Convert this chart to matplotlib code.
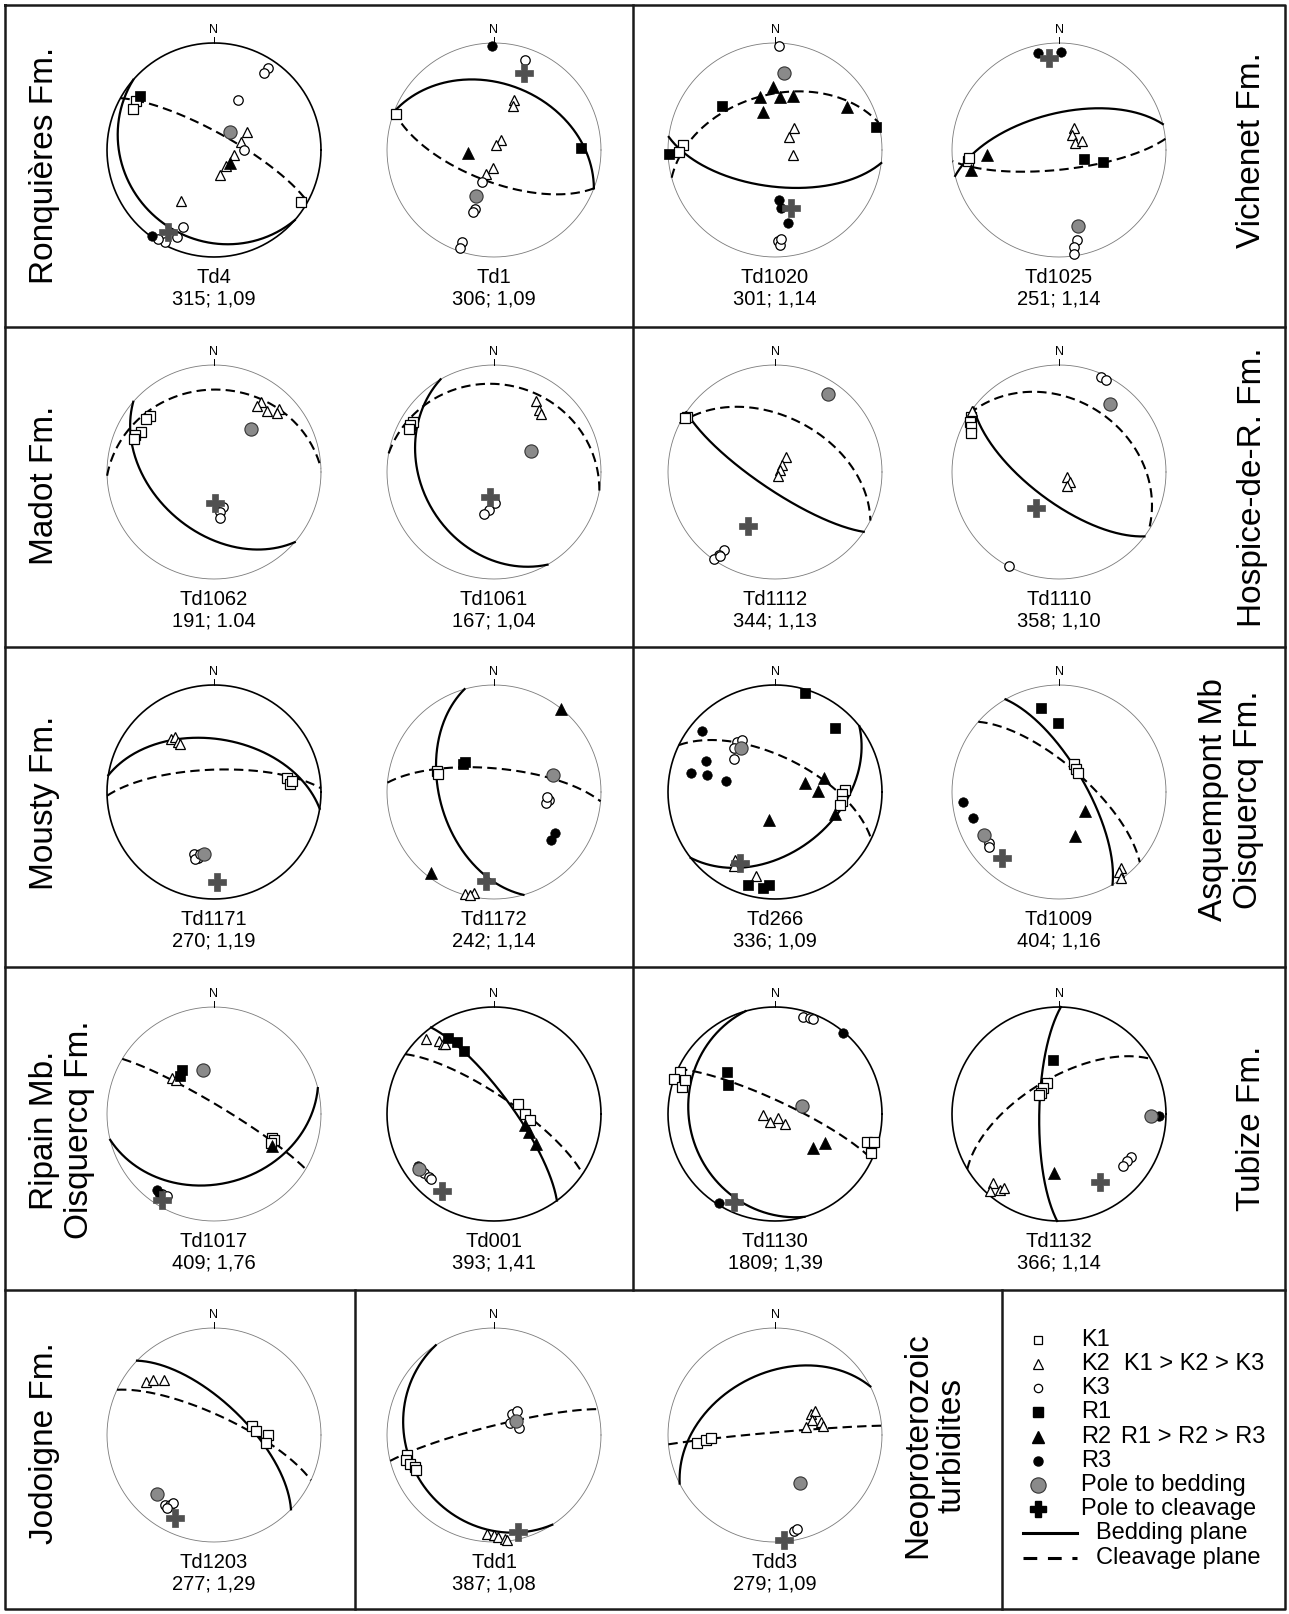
import numpy as np
import matplotlib
matplotlib.use("Agg")
import matplotlib.pyplot as plt

plt.rcParams['font.family'] = ['Liberation Sans', 'DejaVu Sans']

#################################################################
# DATA: AMS axes and poles, (trend, plunge) in degrees, lower hemisphere
#################################################################
TD4 = dict(name="Td4", info="315; 1,09",
           K1=[(302, 15), (297, 16), (121, 6)],
           K2=[(61, 61), (74, 69), (105, 74), (142, 75), (166, 70), (213, 43)],
           K3=[(33, 9), (33, 15), (26, 47), (90, 67), (202, 23), (203, 13), (208, 3), (212, 2)],
           R1=[(306, 16)], R2=[(129, 74)], R3=[(216, 1)],
           bed=(41, 72), clv=(209, 13))
TD1 = dict(name="Td1", info="306; 1,09",
           K1=[(290, 3)],
           K2=[(22, 48), (23, 53), (35, 81), (18, 86), (183, 76), (198, 71)],
           K3=[(19, 12), (200, 64), (198, 42), (199, 39), (199, 10), (199, 3)],
           R1=[(89, 20)], R2=[(263, 70)], R3=[(359, 3)],
           bed=(201, 52), clv=(21, 24))
TD1020 = dict(name="Td1020", info="301; 1,14",
              K1=[(273, 15), (269, 11)],
              K2=[(41, 68), (47, 75), (106, 76)],
              K3=[(2, 3), (178, 16), (177, 12), (176, 18)],
              R1=[(310, 36), (77, 3), (268, 1)],
              R2=[(358, 41), (344, 47), (5, 49), (19, 46), (342, 59), (59, 23)],
              R3=[(176, 51), (174, 45), (170, 31)],
              bed=(7, 28), clv=(165, 43))
TD1025 = dict(name="Td1025", info="251; 1,14",
              K1=[(263, 15), (265, 17)],
              K2=[(35, 70), (41, 75), (67, 77), (70, 71)],
              K3=[(169, 15), (171, 9), (172, 2)],
              R1=[(109, 70), (105, 55)], R2=[(266, 33), (257, 17)], R3=[(348, 8), (1, 9)],
              bed=(166, 28), clv=(354, 15))
TD1062 = dict(name="Td1062", info="191; 1.04",
              K1=[(311, 22), (308, 21), (299, 23), (295, 20), (292, 20)],
              K2=[(34, 22), (33, 27), (41, 26), (46, 17), (47, 20)],
              K3=[(165, 62), (171, 59), (173, 54)],
              bed=(41, 46), clv=(178, 66))
TD1061 = dict(name="Td1061", info="167; 1,04",
              K1=[(302, 12), (299, 11), (297, 12)],
              K2=[(31, 24), (36, 29), (39, 31)],
              K3=[(178, 66), (188, 61), (194, 57)],
              bed=(60, 57), clv=(190, 71))
TD1112 = dict(name="Td1112", info="344; 1,13",
              K1=[(302, 3), (301, 2)],
              K2=[(38, 76), (45, 82), (63, 86), (146, 86)],
              K3=[(213, 14), (214, 7), (215, 1), (213, 7)],
              bed=(34, 13), clv=(207, 43))
TD1110 = dict(name="Td1110", info="358; 1,10",
              K1=[(302, 3), (299, 5), (297, 9), (294, 11)],
              K2=[(305, 1), (120, 83), (132, 79), (150, 78)],
              K3=[(24, 3), (27, 4), (208, 1)],
              bed=(37, 22), clv=(213, 57))
TD1171 = dict(name="Td1171", info="270; 1,19",
              K1=[(79, 31), (84, 29), (82, 27)],
              K2=[(321, 36), (325, 37), (324, 42), (325, 44)],
              K3=[(198, 39), (194, 37), (196, 35), (193, 40)],
              bed=(189, 41), clv=(178, 17))
TD1172 = dict(name="Td1172", info="242; 1,14",
              K1=[(290, 43), (288, 44)],
              K2=[(196, 1), (191, 4), (193, 1)],
              K3=[(98, 47), (102, 49), (95, 49)],
              R1=[(312, 58), (316, 58)], R2=[(39, 0), (218, 5)], R3=[(124, 32), (130, 31)],
              bed=(74, 42), clv=(185, 18))
TD266 = dict(name="Td266", info="336; 1,09",
             K1=[(88, 35), (92, 37), (98, 37), (101, 38)],
             K2=[(210, 27), (209, 22), (193, 21)],
             K3=[(323, 41), (328, 42), (317, 43), (309, 49)],
             R1=[(17, 4), (43, 19), (196, 11), (187, 11), (184, 14)],
             R2=[(74, 66), (74, 51), (89, 57), (193, 68), (110, 40)],
             R3=[(310, 12), (294, 30), (283, 21), (284, 35), (283, 51)],
             bed=(322, 47), clv=(206, 27))
TD1009 = dict(name="Td1009", info="404; 1,16",
              K1=[(29, 66), (36, 68), (45, 69)],
              K2=[(141, 9), (143, 7), (144, 1)],
              K3=[(234, 20), (232, 18)],
              R1=[(348, 21), (359, 36)], R2=[(126, 65), (160, 54)], R3=[(264, 11), (253, 17)],
              bed=(240, 20), clv=(221, 20))
TD1017 = dict(name="Td1017", info="409; 1,76",
              K1=[(112, 41), (114, 39), (117, 40)],
              K2=[(310, 47), (312, 51)],
              K3=[(213, 12), (210, 13)],
              R1=[(324, 48), (318, 51)], R2=[(119, 38)], R3=[(217, 12), (215, 11)],
              bed=(346, 55), clv=(211, 7))
TD001 = dict(name="Td001", info="393; 1,41",
             K1=[(68, 70), (90, 66), (100, 62)],
             K2=[(318, 6), (323, 16), (324, 20), (325, 21)],
             K3=[(230, 16), (226, 17), (224, 17)],
             R1=[(329, 18), (333, 25), (335, 35)],
             R2=[(109, 65), (117, 60), (125, 50)],
             R3=[(236, 15)],
             bed=(234, 14), clv=(214, 14))
TD1130 = dict(name="Td1130", info="1809; 1,39",
              K1=[(294, 3), (289, 0), (286, 10), (291, 11), (107, 11), (106, 4), (112, 4)],
              K2=[(265, 81), (210, 83), (143, 86), (135, 79)],
              K3=[(16, 6), (20, 5), (22, 5)],
              R1=[(311, 40), (302, 47)], R2=[(132, 51), (120, 45)], R3=[(40, 1), (212, 2)],
              bed=(74, 69), clv=(205, 10))
TD1132 = dict(name="Td1132", info="366; 1,14",
              K1=[(339, 65), (328, 67), (320, 69), (313, 69)],
              K2=[(224, 12), (222, 4), (218, 11), (217, 15)],
              K3=[(121, 23), (125, 24), (129, 24)],
              R1=[(354, 48)], R2=[(185, 44)], R3=[(91, 7)],
              bed=(91, 15), clv=(149, 27))
TD1203 = dict(name="Td1203", info="277; 1,29",
              K1=[(77, 60), (85, 58), (90, 48), (99, 49)],
              K2=[(308, 21), (312, 24), (318, 31)],
              K3=[(215, 21), (212, 24), (211, 27), (213, 20)],
              bed=(224, 24), clv=(205, 15))
TDD1 = dict(name="Tdd1", info="387; 1,08",
            K1=[(257, 18), (254, 16), (251, 18), (248, 21), (246, 21)],
            K2=[(184, 8), (180, 7), (178, 5), (174, 3), (173, 1)],
            K3=[(40, 69), (44, 65), (54, 75), (75, 70)],
            bed=(57, 70), clv=(166, 7))
TDD3 = dict(name="Tdd3", info="279; 1,09",
            K1=[(264, 28), (266, 36), (267, 40)],
            K2=[(59, 58), (59, 54), (68, 59), (74, 53), (76, 66), (79, 52)],
            K3=[(169, 9), (167, 11)],
            bed=(153, 48), clv=(175, 2))

formations = ["Ronquières Fm.", "Vichenet Fm.", "Madot Fm.", "Hospice-de-R. Fm.",
              "Mousty Fm.", "Asquempont Mb\nOisquercq Fm.", "Ripain Mb.\nOisquercq Fm.",
              "Tubize Fm.", "Jodoigne Fm.", "Neoproterozoic\nturbidites"]

legend_labels = ["K1", "K2", "K3", "R1", "R2", "R3", "Pole to bedding",
                 "Pole to cleavage", "Bedding plane", "Cleavage plane"]

#################################################################
# LAYOUT / STYLE
#################################################################
W, H = 1289, 1614
R = 107
col_x = [214, 494, 775, 1059]
row_y = [150, 472, 792, 1114, 1435]

nets = [(TD4, 0, 0), (TD1, 1, 0), (TD1020, 2, 0), (TD1025, 3, 0),
        (TD1062, 0, 1), (TD1061, 1, 1), (TD1112, 2, 1), (TD1110, 3, 1),
        (TD1171, 0, 2), (TD1172, 1, 2), (TD266, 2, 2), (TD1009, 3, 2),
        (TD1017, 0, 3), (TD001, 1, 3), (TD1130, 2, 3), (TD1132, 3, 3),
        (TD1203, 0, 4), (TDD1, 1, 4), (TDD3, 2, 4)]
bold_nets = {"Td4", "Td1171", "Td266", "Td001", "Td1130", "Td1132"}

formation_pos = [(45, 165), (1252, 150), (45, 485), (1252, 487), (45, 803),
                 (1231, 800), (62, 1130), (1252, 1128), (45, 1443), (935, 1445)]

marker_style = {
    "K1": dict(marker="s", ms=6.8, mfc="white", mec="black", mew=0.9),
    "K2": dict(marker="^", ms=7.3, mfc="white", mec="black", mew=0.9),
    "K3": dict(marker="o", ms=6.8, mfc="white", mec="black", mew=0.9),
    "R1": dict(marker="s", ms=7.2, mfc="black", mec="black", mew=0.5),
    "R2": dict(marker="^", ms=8.3, mfc="black", mec="black", mew=0.5),
    "R3": dict(marker="o", ms=6.8, mfc="black", mec="black", mew=0.5),
    "bed": dict(marker="o", ms=9.5, mfc="#8a8a8a", mec="#333333", mew=0.8),
    "clv": dict(marker="P", ms=12.5, mfc="#505050", mec="#505050", mew=0.5),
}
label_font = ['Liberation Sans Narrow', 'Liberation Sans', 'DejaVu Sans']


def project(trend, plunge):
    """Lower-hemisphere equal-area projection."""
    t = np.radians(trend)
    p = np.radians(plunge)
    d = np.sin(p)
    e = np.cos(p) * np.sin(t)
    n = np.cos(p) * np.cos(t)
    return e / np.sqrt(1 + d), n / np.sqrt(1 + d)


def plane_arc(pole):
    """Great circle of the plane normal to a pole (trend, plunge)."""
    dd = np.radians(pole[0] + 180)
    dip = np.radians(90 - pole[1])
    s = dd - np.pi / 2
    t = np.linspace(0, np.pi, 181)
    sv = np.array([np.sin(s), np.cos(s), 0.0])
    dv = np.array([np.sin(dd) * np.cos(dip), np.cos(dd) * np.cos(dip), np.sin(dip)])
    v = np.outer(np.cos(t), sv) + np.outer(np.sin(t), dv)
    k = np.sqrt(1 + v[:, 2])
    return v[:, 0] / k, v[:, 1] / k


def draw_net(fig, site, cx, cy):
    ax = fig.add_axes([(cx - R) / W, 1 - (cy + R) / H, 2 * R / W, 2 * R / H])
    ax.set_xlim(-1, 1)
    ax.set_ylim(-1, 1)
    ax.axis("off")

    th = np.linspace(0, 2 * np.pi, 361)
    if site["name"] in bold_nets:
        ax.plot(np.cos(th), np.sin(th), color="black", lw=1.2, clip_on=False)
    else:
        ax.plot(np.cos(th), np.sin(th), color="#7a7a7a", lw=0.6, clip_on=False)
    ax.plot([0, 0], [1, 1.06], color="black", lw=0.7, clip_on=False)
    ax.text(0, 1.07, "N", ha="center", va="bottom", fontsize=9)

    # planes
    x, y = plane_arc(site["bed"])
    ax.plot(x, y, color="black", lw=1.6, clip_on=False)
    x, y = plane_arc(site["clv"])
    ax.plot(x, y, color="black", lw=1.5, ls=(0, (4.5, 2.5)), clip_on=False)

    # axes
    for key in ["K1", "K2", "K3", "R1", "R2", "R3"]:
        pts = site.get(key, [])
        if not pts:
            continue
        tr = np.array([p[0] for p in pts])
        pl = np.array([p[1] for p in pts])
        x, y = project(tr, pl)
        ax.plot(x, y, ls="none", clip_on=False, **marker_style[key])
    for key in ["bed", "clv"]:
        x, y = project(*site[key])
        ax.plot([x], [y], ls="none", clip_on=False, **marker_style[key])

    ax.text(0, -1.19, site["name"], ha="center", va="center", fontsize=14.5, family=label_font)
    ax.text(0, -1.39, site["info"], ha="center", va="center", fontsize=14.5, family=label_font)


fig = plt.figure(figsize=(W / 100, H / 100), dpi=100)
bg = fig.add_axes([0, 0, 1, 1])
bg.set_xlim(0, W)
bg.set_ylim(H, 0)
bg.axis("off")

# panel borders
lw_box = 1.8
bc = "#1a1a1a"
bg.plot([5, 1285, 1285, 5, 5], [5, 5, 1609, 1609, 5], color=bc, lw=lw_box)
for yy in [327, 647, 967, 1290]:
    bg.plot([5, 1285], [yy, yy], color=bc, lw=lw_box)
bg.plot([633, 633], [5, 1290], color=bc, lw=lw_box)
bg.plot([355, 355], [1290, 1609], color=bc, lw=lw_box)
bg.plot([1002, 1002], [1290, 1609], color=bc, lw=lw_box)

for txt, (fx, fy) in zip(formations, formation_pos):
    bg.text(fx, fy, txt, rotation=90, ha="center", va="center", fontsize=24,
            multialignment="center", linespacing=1.15)

for site, c, r in nets:
    draw_net(fig, site, col_x[c], row_y[r])

# legend
leg_y = [1340, 1364, 1388, 1412, 1437, 1461, 1485, 1509, 1533, 1558]
leg_marks = [
    dict(marker="s", ms=6, mfc="white", mec="black", mew=0.9),
    dict(marker="^", ms=6.5, mfc="white", mec="black", mew=0.9),
    dict(marker="o", ms=6, mfc="white", mec="black", mew=0.9),
    dict(marker="s", ms=7, mfc="black", mec="black"),
    dict(marker="^", ms=8, mfc="black", mec="black"),
    dict(marker="o", ms=6.5, mfc="black", mec="black"),
    dict(marker="o", ms=11, mfc="#8a8a8a", mec="#333333", mew=0.8),
    dict(marker="P", ms=11, mfc="black", mec="black"),
]
leg_fs = 17
for i, lab in enumerate(legend_labels):
    y = leg_y[i]
    if i < len(leg_marks):
        bg.plot([1038], [y], ls="none", **leg_marks[i])
        bg.text(1081, y, lab, ha="left", va="center", fontsize=leg_fs)
    else:
        ls = "-" if lab.startswith("Bedding") else (0, (4.5, 3.5))
        bg.plot([1023, 1077], [y, y], color="black", lw=2.2, ls=ls)
        bg.text(1096, y, lab, ha="left", va="center", fontsize=leg_fs)
bg.text(1124, leg_y[1], "K1 > K2 > K3", ha="left", va="center", fontsize=leg_fs)
bg.text(1121, leg_y[4], "R1 > R2 > R3", ha="left", va="center", fontsize=leg_fs)

fig.savefig("out.png", dpi=100)
